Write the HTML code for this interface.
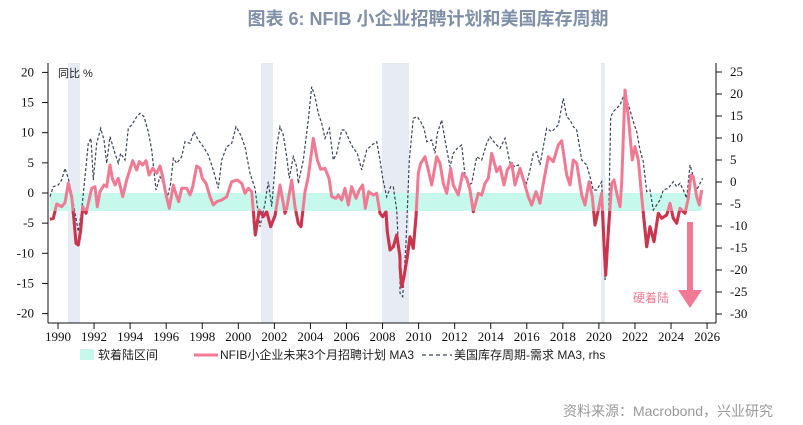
<!DOCTYPE html>
<html><head><meta charset="utf-8"><style>
body{margin:0;background:#fff;width:803px;height:425px;overflow:hidden;}
svg{display:block}
.t{font-family:"Liberation Serif",serif;font-size:13px;fill:#111}
.c{font-family:"Liberation Sans","Noto Sans CJK SC",sans-serif}
</style></head><body>
<svg width="803" height="425" viewBox="0 0 803 425">
<text x="428" y="25" text-anchor="middle" class="c" font-size="18" font-weight="bold" fill="#8090a8">图表 6:  NFIB 小企业招聘计划和美国库存周期</text>
<g fill="#e6ebf4">
<rect x="68" y="63" width="12" height="260"/>
<rect x="261" y="63" width="12" height="260"/>
<rect x="382" y="63" width="27" height="260"/>
<rect x="601" y="63" width="4" height="260"/>
</g>
<rect x="50" y="193" width="652" height="18" fill="#c6f9ec"/>
<defs><clipPath id="lo"><rect x="0" y="211" width="803" height="200"/></clipPath></defs>
<g id="ax" stroke="#111" stroke-width="1" fill="none">
<line x1="48" y1="63" x2="48" y2="323"/>
<line x1="716" y1="63" x2="716" y2="323"/>
<line x1="48" y1="323" x2="716" y2="323"/>
</g>
<g id="ticks"></g>
<polyline id="dash" fill="none" stroke="#3a4458" stroke-width="1.2" stroke-dasharray="3,2"/>
<polyline id="pk" fill="none" stroke="#f07a94" stroke-width="3" stroke-linejoin="round"/>
<polyline id="pk2" fill="none" stroke="#c8364e" stroke-width="3" stroke-linejoin="round" clip-path="url(#lo)"/>
<text x="58" y="77" class="c" font-size="11" fill="#222">同比 %</text>
<rect x="687" y="222" width="6" height="70" fill="#f07a94"/>
<polygon points="678,290 702,290 690,308" fill="#f07a94"/>
<text x="633" y="302" class="c" font-size="12" fill="#f07a94">硬着陆</text>
<rect x="80" y="349" width="14" height="11" fill="#c6f9ec"/>
<text x="98" y="359" class="c" font-size="12" fill="#222">软着陆区间</text>
<line x1="194" y1="355" x2="218" y2="355" stroke="#f07a94" stroke-width="3"/>
<text x="220" y="359" class="c" font-size="12" fill="#222">NFIB小企业未来3个月招聘计划 MA3</text>
<line x1="422" y1="355" x2="452" y2="355" stroke="#3a4458" stroke-width="1.2" stroke-dasharray="4,3"/>
<text x="454" y="359" class="c" font-size="12" fill="#222">美国库存周期-需求 MA3, rhs</text>
<text x="773" y="416" text-anchor="end" class="c" font-size="14" fill="#999">资料来源：Macrobond，兴业研究</text>
</svg>
<script>
const NS="http://www.w3.org/2000/svg";
const tk=document.getElementById("ticks");
function el(t,a,txt){const e=document.createElementNS(NS,t);for(const k in a)e.setAttribute(k,a[k]);if(txt!==undefined)e.textContent=txt;tk.appendChild(e);}
for(let v=20;v>=-20;v-=5){const y=193-v*6.03;el("line",{x1:42,y1:y,x2:48,y2:y,stroke:"#111"});el("text",{x:34,y:y+4,"text-anchor":"end",class:"t"},v);}
for(let v=25;v>=-30;v-=5){const y=182-v*4.4;el("line",{x1:716,y1:y,x2:722,y2:y,stroke:"#111"});el("text",{x:730,y:y+4,class:"t"},v);}
for(let yr=1990;yr<=2026;yr+=2){const x=58+(yr-1990)*18.03;el("line",{x1:x,y1:323,x2:x,y2:329,stroke:"#111"});el("text",{x:x,y:341,"text-anchor":"middle",class:"t"},yr);}
const p1=[[150,508],[160,505],[170,462],[185,470],[195,458],[205,400],[215,440],[222,510],[228,580],[235,585],[242,540],[248,470],[258,490],[265,460],[275,415],[285,410],[292,470],[300,425],[312,405],[320,410],[330,345],[337,385],[345,405],[355,385],[368,440],[380,390],[398,332],[410,360],[418,335],[428,345],[438,332],[447,375],[458,355],[470,370],[480,348],[487,375],[497,430],[508,475],[520,405],[527,430],[536,455],[545,415],[560,415],[570,435],[578,410],[590,348],[600,355],[607,385],[618,400],[630,440],[640,465],[650,455],[665,450],[680,440],[695,395],[712,390],[725,400],[735,430],[745,415],[755,425],[766,555],[778,480],[790,500],[800,485],[812,530],[825,497],[840,405],[855,490],[860,475],[875,390],[885,470],[895,520],[903,530],[915,425],[925,380],[940,265],[952,330],[962,358],[975,355],[987,385],[995,440],[1008,445],[1015,435],[1025,450],[1035,415],[1045,465],[1055,410],[1068,445],[1078,420],[1088,405],[1096,475],[1106,425],[1120,435],[1130,430],[1140,490],[1148,500],[1158,485],[1162,545],[1170,600],[1180,590],[1190,555],[1200,620]];
const p2=[[0,650],[5,710],[12,680],[22,620],[30,560],[40,595],[48,500],[55,370],[62,340],[75,320],[85,360],[95,405],[110,320],[120,340],[130,400],[140,430],[152,355],[160,405],[175,435],[188,370],[200,385],[210,420],[220,485],[235,430],[245,435],[255,400],[265,385],[275,310],[290,365],[300,350],[312,405],[322,360],[335,340],[345,405],[360,355],[372,395],[385,440],[395,465],[408,425],[420,460],[430,400],[445,320],[460,335],[475,285],[485,272],[500,375],[510,405],[520,330],[530,340],[545,435],[555,465],[567,395],[577,440],[585,525],[595,480],[605,430],[612,580],[617,675],[625,545],[635,400],[642,390],[650,430],[660,470],[665,400],[675,120],[685,200],[697,330],[705,290],[715,330],[725,440],[740,590],[750,530],[762,575],[775,490],[785,505],[800,495],[810,460],[820,505],[830,520],[840,475],[855,490],[865,445],[873,375],[880,380],[890,440],[898,465],[905,420]];
const d1=[[150,440],[160,410],[175,405],[185,390],[195,355],[205,385],[218,450],[228,505],[235,545],[245,480],[255,380],[265,280],[273,265],[280,390],[290,280],[302,235],[312,270],[320,340],[330,260],[345,310],[355,340],[362,310],[375,330],[385,235],[395,225],[410,200],[420,190],[432,200],[445,245],[455,300],[468,420],[480,380],[490,400],[500,450],[512,400],[520,325],[530,340],[545,320],[555,275],[570,280],[582,245],[595,270],[610,290],[625,315],[640,360],[655,415],[665,330],[680,290],[695,280],[708,230],[722,255],[735,290],[750,370],[765,415],[780,530],[795,460],[805,395],[815,470],[830,290],[840,230],[850,255],[860,320],[868,385],[880,320],[890,350],[895,400],[910,330],[925,210],[935,110],[945,140],[955,190],[965,220],[975,265],[988,235],[1000,330],[1010,310],[1025,240],[1035,240],[1050,275],[1060,295],[1072,310],[1085,360],[1100,300],[1115,285],[1130,275],[1140,330],[1148,385],[1160,440],[1172,410],[1180,410],[1190,480],[1200,690]];
const d2=[[0,730],[8,740],[18,580],[28,330],[40,205],[52,200],[62,215],[72,235],[80,275],[95,270],[105,310],[112,250],[125,210],[135,270],[150,350],[160,310],[172,295],[185,285],[195,375],[205,405],[215,400],[230,320],[245,330],[260,280],[270,260],[285,280],[300,295],[315,265],[330,340],[345,350],[355,345],[365,375],[380,400],[390,360],[400,310],[410,305],[420,345],[430,290],[440,235],[455,245],[475,225],[490,145],[500,200],[510,210],[520,230],[530,240],[545,330],[560,345],[570,380],[580,420],[590,420],[605,395],[615,690],[625,570],[632,200],[640,185],[650,175],[660,165],[670,140],[680,150],[690,180],[700,215],[710,245],[720,300],[730,335],[740,425],[750,420],[760,480],[770,465],[780,450],[790,420],[805,415],[820,395],[830,410],[840,400],[850,420],[860,445],[870,345],[880,380],[890,420],[900,400],[908,385]];
function pts(a,ox){return a.map(p=>((ox+p[0]/3).toFixed(1))+","+((50+p[1]/3).toFixed(1))).join(" ");}
const P=pts(p1,0)+" "+pts(p2,400), D=pts(d1,0)+" "+pts(d2,400);
document.getElementById("pk").setAttribute("points",P);
document.getElementById("pk2").setAttribute("points",P);
document.getElementById("dash").setAttribute("points",D);
</script>
</body></html>
